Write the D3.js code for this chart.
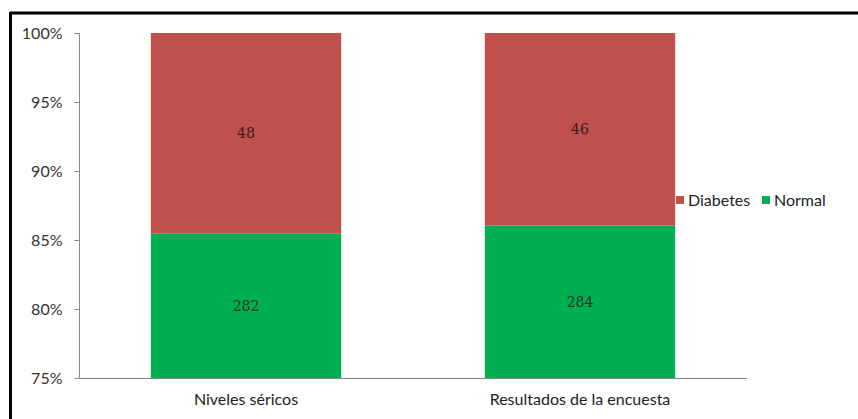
<!DOCTYPE html>
<html><head><meta charset="utf-8">
<script src="https://cdn.jsdelivr.net/npm/d3@7"></script>
<style>html,body{margin:0;padding:0;background:#fff;}svg{display:block;}</style>
</head><body>
<svg id="chart" width="858" height="419"></svg>
<script>
const categories = ["Niveles séricos", "Resultados de la encuesta"];
const seriesNames = ["Normal", "Diabetes"];
const normalValues = [282, 284];
const diabetesValues = [48, 46];
const yTicks = [0.75, 0.80, 0.85, 0.90, 0.95, 1.00];
const colors = {Normal: "#00B050", Diabetes: "#C0504D"};

const svg = d3.select("#chart");
const font = "Lato, 'Open Sans', sans-serif";

// frame (top & left)
svg.append("line").attr("x1", 10).attr("x2", 858).attr("y1", 13).attr("y2", 13).attr("stroke", "#000").attr("stroke-width", 3);
svg.append("line").attr("x1", 10.5).attr("x2", 10.5).attr("y1", 12).attr("y2", 419).attr("stroke", "#000").attr("stroke-width", 3);

const x = d3.scaleBand().domain(categories).range([79, 747]).paddingInner(0.43).paddingOuter(0.215);
const y = d3.scaleLinear().domain([0.75, 1.0]).range([378, 33]);

const rows = categories.map((c, i) => ({cat: c, Normal: normalValues[i], Diabetes: diabetesValues[i]}));
const stack = d3.stack().keys(seriesNames).offset(d3.stackOffsetExpand);
const stacked = stack(rows);

const g = svg.append("g");
stacked.forEach(s => {
  s.forEach((d, i) => {
    const lo = Math.max(d[0], 0.75);
    g.append("rect")
      .attr("x", x(rows[i].cat))
      .attr("width", x.bandwidth())
      .attr("y", y(d[1]))
      .attr("height", y(lo) - y(d[1]))
      .attr("fill", colors[s.key]);
    g.append("text")
      .attr("x", x(rows[i].cat) + x.bandwidth() / 2)
      .attr("y", (y(lo) + y(d[1])) / 2 + 5)
      .attr("text-anchor", "middle")
      .attr("font-family", "'DejaVu Serif', serif")
      .attr("font-size", 14)
      .attr("fill", s.key === "Normal" ? "#17331c" : "#3a1818")
      .text(rows[i][s.key]);
  });
});

// y axis
const yAxis = d3.axisLeft(y).tickValues(yTicks).tickFormat(d3.format(".0%")).tickSize(5).tickPadding(12);
const ya = svg.append("g").attr("transform", "translate(79.5,0)").call(yAxis);
ya.select(".domain").attr("stroke", "#888").attr("d", "M0,33V378");
ya.selectAll(".tick line").attr("stroke", "#888");
ya.selectAll(".tick text").attr("font-family", font).attr("font-size", 16).attr("fill", "#333");

// x axis
const xAxis = d3.axisBottom(x).tickSize(0).tickPadding(15);
const xa = svg.append("g").attr("transform", "translate(0,378.5)").call(xAxis);
xa.select(".domain").attr("stroke", "#888").attr("d", "M79,0H747");
xa.selectAll(".tick text").attr("font-family", font).attr("font-size", 16).attr("fill", "#222");

// legend
const legendItems = ["Diabetes", "Normal"];
const legendX = [676, 762];
legendItems.forEach((k, i) => {
  svg.append("rect").attr("x", legendX[i]).attr("y", 196).attr("width", 8).attr("height", 8).attr("fill", colors[k]);
  svg.append("text").attr("x", legendX[i] + 12).attr("y", 205.5)
    .attr("font-family", font).attr("font-size", 16).attr("fill", "#222").text(k);
});
</script>
</body></html>
